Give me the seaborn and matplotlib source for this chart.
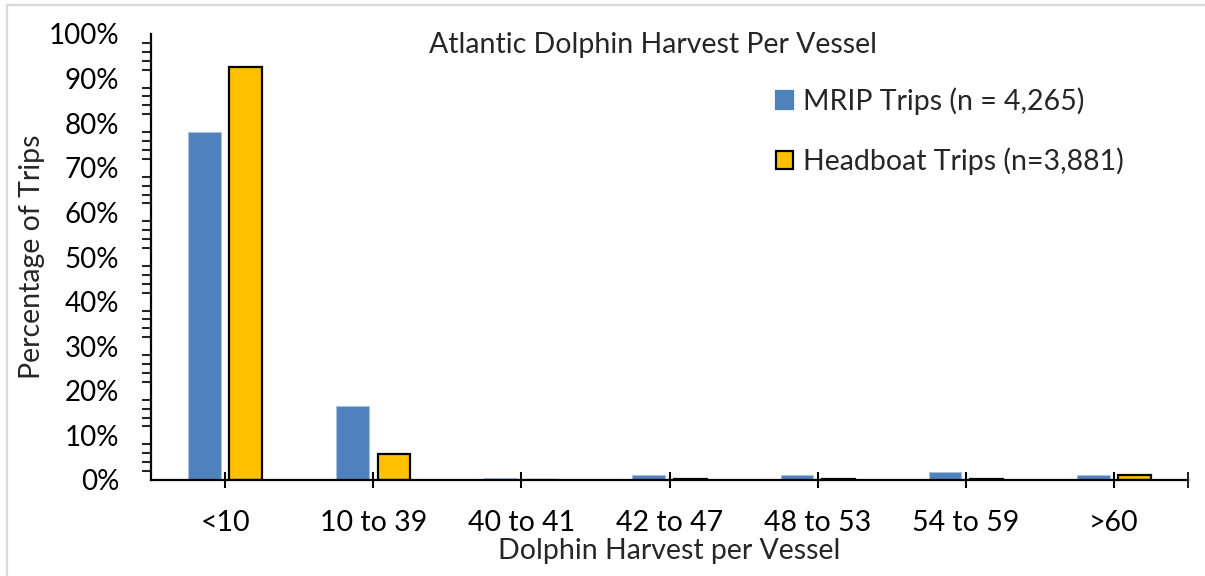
import matplotlib
matplotlib.use("Agg")
import matplotlib.pyplot as plt
import seaborn as sns
import pandas as pd
from matplotlib.ticker import FixedLocator, MultipleLocator, FuncFormatter
from matplotlib.patches import Rectangle

categories = ["<10", "10 to 39", "40 to 41", "42 to 47", "48 to 53", "54 to 59", ">60"]
mrip = [78.1, 16.6, 0.5, 1.1, 1.1, 1.8, 1.1]
headboat = [92.7, 5.8, 0.1, 0.3, 0.2, 0.3, 1.2]
series_names = ["MRIP Trips (n = 4,265)", "Headboat Trips (n=3,881)"]
colors = ["#4F81BD", "#FFC000"]
edge_colors = ["#A7C0DE", "#000000"]
edge_widths = [0.8, 1.6]

df = pd.DataFrame({
    "cat": categories * 2,
    "val": mrip + headboat,
    "series": [series_names[0]] * len(categories) + [series_names[1]] * len(categories),
})

sns.set_style("white")
plt.rcParams["font.family"] = ["Lato", "DejaVu Sans"]

FS = 20.5

fig = plt.figure(figsize=(12.05, 5.76), dpi=100)
ax = fig.add_axes([151/1205, 1-480/576, (1188-151)/1205, (480-34)/576])

sns.barplot(data=df, x="cat", y="val", hue="series", order=categories,
            hue_order=series_names, palette=colors, width=0.56, gap=0.21,
            saturation=1, ax=ax, legend=False)

for cont, ec, lw in zip(ax.containers, edge_colors, edge_widths):
    for p in cont:
        p.set_edgecolor(ec)
        p.set_linewidth(lw)

ax.set_xlim(-0.5, 6.5)
ax.set_ylim(0, 100)

for s in ["top", "right"]:
    ax.spines[s].set_visible(False)
for s in ["left", "bottom"]:
    ax.spines[s].set_linewidth(1.6)
    ax.spines[s].set_color("black")

ax.yaxis.set_major_locator(MultipleLocator(10))
ax.yaxis.set_minor_locator(MultipleLocator(2))
ax.yaxis.set_major_formatter(FuncFormatter(lambda v, p: f"{int(round(v))}%"))
ax.xaxis.set_minor_locator(FixedLocator([6.5]))

ax.tick_params(axis="y", which="major", direction="inout", length=14, width=1.5,
               labelsize=20, pad=16, colors="black")
ax.tick_params(axis="y", which="minor", direction="out", length=6.5, width=1.5, left=True)
ax.tick_params(axis="x", which="major", direction="inout", length=11.5, width=1.5,
               labelsize=FS, pad=16, colors="black", bottom=True)
ax.tick_params(axis="x", which="minor", direction="inout", length=11.5, width=1.5, bottom=True)

ax.set_xlabel("Dolphin Harvest per Vessel", fontsize=FS, labelpad=1)
ax.set_ylabel("Percentage of Trips", fontsize=FS)
ax.yaxis.label.set_va("center")
ax.yaxis.set_label_coords((32 - 151) / 1037, 0.5)

ax.text(0.484, 0.975, "Atlantic Dolphin Harvest Per Vessel", transform=ax.transAxes,
        ha="center", va="center", fontsize=FS)

handles = [Rectangle((0, 0), 1, 1, facecolor=c, edgecolor=(ec if i == 1 else c), linewidth=1.6)
           for i, (c, ec) in enumerate(zip(colors, edge_colors))]
ax.legend(handles, series_names, loc="upper left", bbox_to_anchor=(0.592, 0.905),
          frameon=False, fontsize=FS, handlelength=0.6, handleheight=0.6,
          handletextpad=0.35, labelspacing=1.13, borderaxespad=0)

fig.patches.append(Rectangle((6.5/1205, -0.05), 1.2, 1 - 5/576 + 0.05, transform=fig.transFigure,
                             fill=False, edgecolor="#D9D9D9", linewidth=1.6))

fig.savefig("out.png", dpi=100)
